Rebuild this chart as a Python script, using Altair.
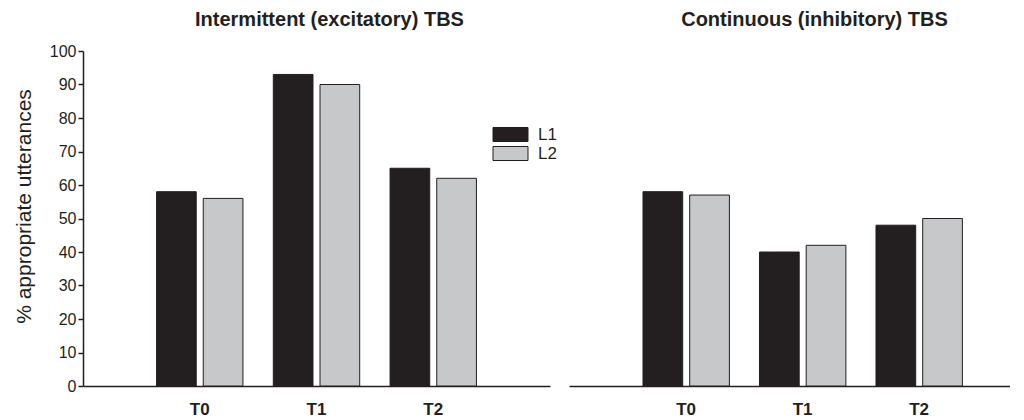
import altair as alt
import pandas as pd

times = ["T0", "T1", "T2"]
groups = ["L1", "L2"]
left_l1 = [58, 93, 65]
left_l2 = [56, 90, 62]
right_l1 = [58, 40, 48]
right_l2 = [57, 42, 50]
titles = ["Intermittent (excitatory) TBS", "Continuous (inhibitory) TBS"]
y_ticks = list(range(0, 101, 10))

def make_df(l1, l2):
    rows = []
    for t, a, b in zip(times, l1, l2):
        rows.append({"time": t, "group": "L1", "value": a})
        rows.append({"time": t, "group": "L2", "value": b})
    return pd.DataFrame(rows)

INK = "#231f20"
color = alt.Color(
    "group:N",
    scale=alt.Scale(domain=groups, range=[INK, "#c7c8ca"]),
    legend=alt.Legend(
        title=None, orient="none", legendX=419, legendY=75,
        symbolType="M-2.5,-1H2.5V1H-2.5Z", symbolSize=196,
        symbolStrokeColor=INK, symbolStrokeWidth=1,
        labelFontSize=17, labelColor=INK, labelOffset=19, rowPadding=0,
    ),
)

def panel(df, title, width, show_y, po, align, tdx, tdy):
    xs = alt.Scale(paddingInner=0.26, paddingOuter=po, align=align)
    if show_y:
        y = alt.Y("value:Q", scale=alt.Scale(domain=[0, 100], nice=False),
                  axis=alt.Axis(values=y_ticks, title="% appropriate utterances",
                                titleFontSize=21, titleFontWeight="normal",
                                titlePadding=15, titleY=155, labelFontSize=16,
                                labelPadding=2, tickSize=5, grid=False))
    else:
        y = alt.Y("value:Q", scale=alt.Scale(domain=[0, 100], nice=False), axis=None)
    return alt.Chart(df).mark_bar(stroke=INK, strokeWidth=1).encode(
        x=alt.X("time:N", sort=times, scale=xs,
                axis=alt.Axis(title=None, labelAngle=0, ticks=False,
                              labelFontWeight="bold", labelFontSize=17, labelPadding=15)),
        xOffset=alt.XOffset("group:N", sort=groups, scale=alt.Scale(paddingInner=0.15)),
        y=y,
        color=color,
    ).properties(
        width=width, height=335,
        title=alt.TitleParams(title, fontSize=20, fontWeight="bold", color=INK,
                              dx=tdx, dy=tdy, offset=13, frame="group"),
    )

left = panel(make_df(left_l1, left_l2), titles[0], 467, True, 0.63, 0.5, 13, 0)
right = panel(make_df(right_l1, right_l2), titles[1], 441, False, 0.5227, 0.6076, 25, -8)

chart = alt.hconcat(left, right, spacing=19).resolve_scale(y="independent").configure(
    font="Liberation Sans",
    padding={"left": 5, "top": 2, "right": 0, "bottom": 0},
).configure_view(stroke=None).configure_axis(
    domainColor=INK, domainWidth=1.5, tickColor=INK, tickWidth=1.5,
    labelColor=INK, titleColor=INK, labelFont="Liberation Sans", titleFont="Liberation Sans",
)

chart.save("out.html", embed_options={"renderer": "svg", "actions": False})
